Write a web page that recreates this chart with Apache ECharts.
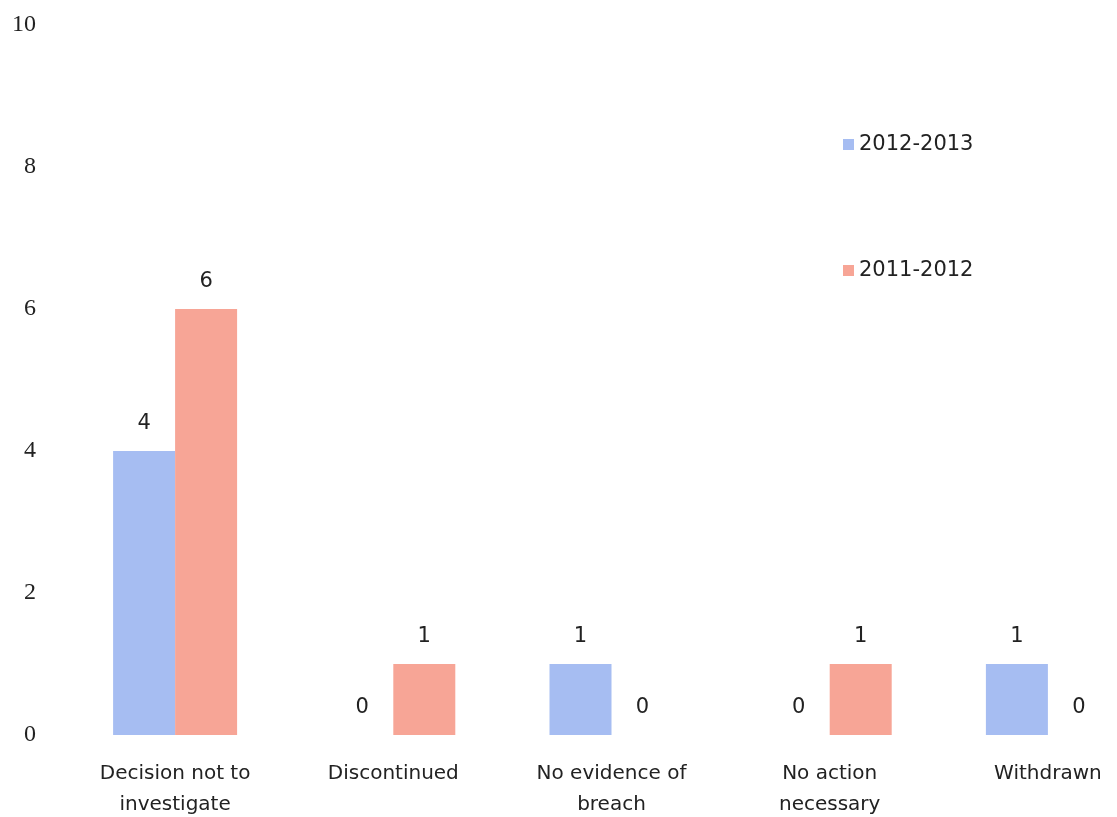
<!DOCTYPE html>
<html>
<head>
<meta charset="utf-8">
<script src="https://cdn.jsdelivr.net/npm/echarts@6/dist/echarts.min.js"></script>
<style>
  html, body { margin: 0; padding: 0; background: #fff; }
  #chart { width: 1117px; height: 817px; }
</style>
</head>
<body>
<div id="chart"></div>
<script>
// Complaint outcomes by year
const categories = [
  'Decision not to\ninvestigate',
  'Discontinued',
  'No evidence of\nbreach',
  'No action\nnecessary',
  'Withdrawn'
];
const values2012_2013 = [4, 0, 1, 0, 1];
const values2011_2012 = [6, 1, 0, 1, 0];
const yTicks = { min: 0, max: 10, interval: 2 };

const sansFont = '"DejaVu Sans", "Open Sans", sans-serif';
const serifFont = '"Liberation Serif", "DejaVu Serif", serif';

const chart = echarts.init(document.getElementById('chart'));

const valueLabel = {
  show: true,
  position: 'top',
  distance: 17,
  fontFamily: sansFont,
  fontSize: 21,
  color: '#222'
};

chart.setOption({
  animation: false,
  backgroundColor: '#ffffff',
  // plot area runs past the right edge so the last category is partly cut off
  grid: {
    left: 66, top: 25, width: 1091, height: 710,
    containLabel: false,
    outerBoundsMode: 'none'
  },
  legend: {
    orient: 'vertical',
    left: 838,
    top: 129,
    itemWidth: 11,
    itemHeight: 11,
    itemGap: 105,
    icon: 'rect',
    textStyle: { fontFamily: sansFont, fontSize: 21, color: '#222' },
    data: ['2012-2013', '2011-2012']
  },
  xAxis: {
    type: 'category',
    data: categories,
    axisLine: { show: false },
    axisTick: { show: false },
    axisLabel: {
      interval: 0,
      margin: 23,
      fontFamily: sansFont,
      fontSize: 20,
      lineHeight: 31,
      color: '#222'
    }
  },
  yAxis: {
    type: 'value',
    min: yTicks.min,
    max: yTicks.max,
    interval: yTicks.interval,
    axisLine: { show: false },
    axisTick: { show: false },
    splitLine: { show: false },
    axisLabel: {
      margin: 30,
      fontFamily: serifFont,
      fontSize: 24,
      color: '#222'
    }
  },
  series: [
    {
      name: '2012-2013',
      type: 'bar',
      data: values2012_2013,
      barWidth: 62,
      barGap: '0%',
      itemStyle: { color: '#a6bdf2' },
      label: valueLabel
    },
    {
      name: '2011-2012',
      type: 'bar',
      data: values2011_2012,
      barWidth: 62,
      barGap: '0%',
      itemStyle: { color: '#f7a596' },
      label: valueLabel
    }
  ]
});
</script>
</body>
</html>
